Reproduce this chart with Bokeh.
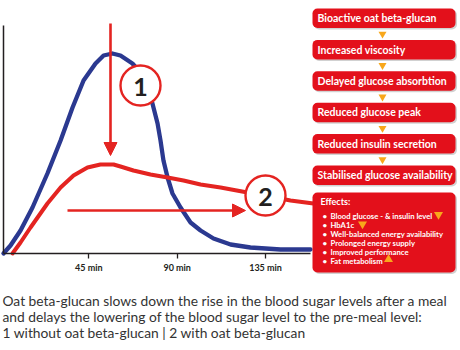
from bokeh.plotting import figure
from bokeh.models import (LinearAxis, FixedTicker, Range1d, BoxAnnotation, Arrow,
                          NormalHead)
from bokeh.core.properties import value
from bokeh.embed import file_html
from bokeh.resources import INLINE

# ---------------- data ----------------
blue_t = [1.5, 5.1, 10.2, 16.3, 23.9, 30.6, 36.7, 42.3, 48.4, 52.5, 57.0, 61.1,
          67.2, 71.3, 74.9, 77.4, 80.0, 81.5, 83.0, 85.1, 87.6, 91.7, 96.8,
          101.9, 108.5, 117.2, 127.3, 142.6, 157.9]
blue_v = [0, 4, 11.5, 23, 40, 56.5, 73, 86.5, 95, 99, 100, 99,
          95, 90.5, 84, 75, 65, 56.5, 46.5, 38, 30, 23, 15.5,
          11.5, 7.5, 4.5, 3, 2, 2]
red_t = [6.1, 10.2, 15.3, 23.9, 30.6, 37.2, 44.3, 50.9, 57.6, 61.1, 67.7, 76.4,
         85.1, 93.2, 101.9, 112.1, 125.8, 137.5, 147.7, 159.4]
red_v = [0, 5.5, 13, 25, 33, 39, 43, 44.5, 44.5, 43.5, 41.5, 39.5,
         38, 36.5, 34.5, 33, 30.5, 28.5, 26.5, 25]
tick_minutes = [45, 90, 135]
tick_labels = ["45 min", "90 min", "135 min"]
flow_steps = ["Bioactive oat beta-glucan", "Increased viscosity",
              "Delayed glucose absorbtion", "Reduced glucose peak",
              "Reduced insulin secretion", "Stabilised glucose availability"]
effects_title = "Effects:"
effects_items = ["Blood glucose - & insulin level", "HbA1c",
                 "Well-balanced energy availability", "Prolonged energy supply",
                 "Improved performance", "Fat metabolism"]
caption_lines = [
    "Oat beta-glucan slows down the rise in the blood sugar levels after a meal",
    "and delays the lowering of the blood sugar level to the pre-meal level:",
    "1 without oat beta-glucan | 2 with oat beta-glucan",
]
circle_labels = ["1", "2"]

# ---------------- layout ----------------
W, H = 460, 350
X0, X1 = 0.0, 234.3
Y0, Y1 = -48.5, 126.5


def X(px):
    return X0 + px * (X1 - X0) / W


def Y(py):
    return Y1 - py * (Y1 - Y0) / H


RED = "#e42421"
BLUE = "#2b3990"
BOXRED = "#e3101b"
ORANGE = "#f8a71b"
DARK = "#231f20"

p = figure(width=W, height=H, x_range=Range1d(X0, X1), y_range=Range1d(Y0, Y1),
           x_axis_type=None, y_axis_type=None, toolbar_location=None,
           output_backend="svg", min_border=0)
p.min_border_left = p.min_border_right = p.min_border_top = p.min_border_bottom = 0
p.outline_line_color = None
p.background_fill_color = "white"
p.border_fill_color = "white"

# axes
xaxis = LinearAxis(fixed_location=0, ticker=FixedTicker(ticks=tick_minutes),
                   major_label_overrides={t: l for t, l in zip(tick_minutes, tick_labels)},
                   bounds=(X(3), X(310)))
xaxis.axis_line_width = 1.5
xaxis.axis_line_color = DARK
xaxis.major_tick_in = 0
xaxis.major_tick_out = 5
xaxis.major_tick_line_width = 1.3
xaxis.major_tick_line_color = DARK
xaxis.minor_tick_in = 0
xaxis.minor_tick_out = 0
xaxis.major_label_text_font = "Lato"
xaxis.major_label_text_font_style = "bold"
xaxis.major_label_text_font_size = "9px"
xaxis.major_label_text_color = DARK
xaxis.major_label_standoff = 3
p.add_layout(xaxis, "below")

yaxis = LinearAxis(fixed_location=X(3), ticker=FixedTicker(ticks=[]), bounds=(0, Y(25)))
yaxis.axis_line_width = 1.5
yaxis.axis_line_color = DARK
yaxis.major_tick_out = 0
yaxis.minor_tick_out = 0
yaxis.major_label_text_font_size = "0px"
p.add_layout(yaxis, "left")

# curves
p.line(blue_t, blue_v, line_color=BLUE, line_width=4.3, line_join="round", line_cap="round")
p.line(red_t, red_v, line_color=RED, line_width=4.0, line_join="round", line_cap="round")

# arrows
p.add_layout(Arrow(end=NormalHead(size=13, fill_color=RED, line_color=RED, line_width=1),
                   x_start=X(110), y_start=Y(23), x_end=X(110), y_end=Y(155),
                   line_color=RED, line_width=2.6))
p.add_layout(Arrow(end=NormalHead(size=13, fill_color=RED, line_color=RED, line_width=1),
                   x_start=X(67), y_start=Y(210), x_end=X(245), y_end=Y(210),
                   line_color=RED, line_width=2.6))

# numbered circles
cx = [X(140), X(265)]
cy = [Y(85), Y(195)]
p.scatter(cx, cy, marker="circle", size=40, fill_color="white", line_color=RED, line_width=2.4)
p.text(cx, [c - 0.5 for c in cy], text=circle_labels, text_align="center", text_baseline="middle",
       text_font=value("Lato"), text_font_style="bold", text_font_size=value("25px"), text_color=DARK)

# flow boxes
box_l, box_r = X(312), X(455)
tops = [8 + i * 31.4 for i in range(len(flow_steps))]
bh = 19.5
for t in tops:
    p.add_layout(BoxAnnotation(left=X(313.5), right=X(456.5), top=Y(t + 1.5), bottom=Y(t + bh + 1.5),
                               fill_color="#000000", fill_alpha=0.18, line_color=None,
                               border_radius=5))
    p.add_layout(BoxAnnotation(left=box_l, right=box_r, top=Y(t), bottom=Y(t + bh),
                               fill_color=BOXRED, fill_alpha=1, line_color=None,
                               border_radius=5))
r = p.text([X(317)] * len(flow_steps), [Y(t + bh / 2) for t in tops], text=flow_steps,
           text_align="left", text_baseline="middle", text_font=value("Lato"),
           text_font_style="bold", text_font_size=value("10.5px"), text_color="white")
r.level = "overlay"
p.scatter([X(382)] * (len(flow_steps) - 1), [Y(t + bh + 6) for t in tops[:-1]],
          marker="inverted_triangle", size=8, fill_color=ORANGE, line_color=None)

# effects box
p.add_layout(BoxAnnotation(left=X(313.5), right=X(456.5), top=Y(193.5), bottom=Y(273.5),
                           fill_color="#000000", fill_alpha=0.18, line_color=None, border_radius=5))
p.add_layout(BoxAnnotation(left=box_l, right=box_r, top=Y(192), bottom=Y(272),
                           fill_color=BOXRED, fill_alpha=1, line_color=None, border_radius=5))
r = p.text([X(320)], [Y(201)], text=[effects_title], text_align="left", text_baseline="middle",
           text_font=value("Lato"), text_font_style="bold", text_font_size=value("9px"),
           text_color="white")
r.level = "overlay"
ey = [Y(215 + 9.1 * j) for j in range(len(effects_items))]
r = p.text([X(322)] * len(effects_items), ey, text=["\u2022"] * len(effects_items),
           text_align="left", text_baseline="middle", text_font=value("Lato"),
           text_font_style="bold", text_font_size=value("8px"), text_color="white")
r.level = "overlay"
r = p.text([X(330)] * len(effects_items), ey, text=effects_items, text_align="left",
           text_baseline="middle", text_font=value("Lato"), text_font_style="bold",
           text_font_size=value("7.7px"), text_color="white")
r.level = "overlay"
r = p.scatter([X(438), X(362)], [Y(214), Y(223.5)], marker="inverted_triangle", size=9,
              fill_color=ORANGE, line_color=None)
r.level = "overlay"
r = p.scatter([X(388)], [Y(259)], marker="triangle", size=9, fill_color=ORANGE, line_color=None)
r.level = "overlay"

# caption
p.text([X(2)] * 3, [Y(300), Y(316), Y(332)], text=caption_lines, text_align="left",
       text_baseline="middle", text_font=value("Lato"), text_font_size=value("13.8px"),
       text_color="#333333")

open("out.html", "w").write(file_html(p, INLINE))
